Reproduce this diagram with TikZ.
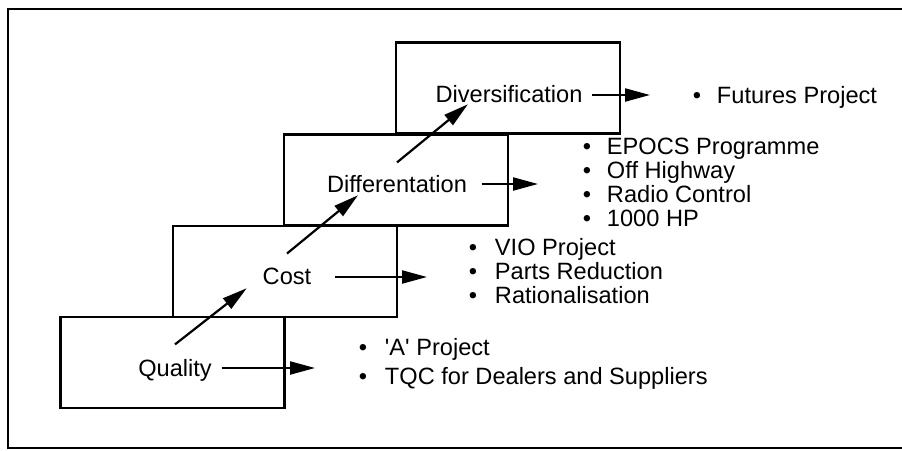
\documentclass[tikz,border=0pt]{standalone}
\usepackage{fontspec}
\setmainfont{Liberation Sans}
\usetikzlibrary{arrows.meta}
\begin{document}
\begin{tikzpicture}[x=1pt,y=-1pt,
  txt/.style={font=\fontsize{23.6}{24}\selectfont, inner sep=0pt, outer sep=0pt},
  stage/.style={draw, line width=2.2pt, minimum width=224pt, minimum height=91pt, inner sep=0pt},
  lbl/.style={txt, anchor=base},
  item/.style={txt, anchor=base west},
  flow/.style={line width=2.2pt, -{Triangle[length=25pt,width=13pt]}},
  frame/.style={line width=2pt},
]
\useasboundingbox (0,0) rectangle (902,450);
\draw[frame] (902,9) -- (8,9) -- (8,448) -- (902,448);

% stage boxes
\node[stage] (qbox) at (172.5,362.5) {};
\node[stage] (cbox) at (285,271.5) {};
\node[stage] (dbox) at (396,180) {};
\node[stage] (vbox) at (508,88) {};

% labels
\node[lbl] (qlabel) at (175,376.5) {Quality};
\node[lbl] (clabel) at (287,284.5) {Cost};
\node[lbl] (dlabel) at (397,192.5) {Differentation};
\node[lbl] (vlabel) at (509,102.5) {Diversification};

% tips of horizontal arrows
\coordinate (qtip) at (315,368);
\coordinate (ctip) at (427,277);
\coordinate (dtip) at (538,184);
\coordinate (vtip) at (650,95);

\draw[flow, shorten <=10pt] (qlabel.east |- qtip) -- (qtip);
\draw[flow, shorten <=24pt] (clabel.east |- ctip) -- (ctip);
\draw[flow, shorten <=15pt] (dlabel.east |- dtip) -- (dtip);
\draw[flow, shorten <=10pt] (vlabel.east |- vtip) -- (vtip);

% diagonal arrows
\draw[flow] ([shift={(0,-15)}]qlabel.north) -- ([shift={(-16,3.5)}]clabel.south west);
\draw[flow] ([shift={(0,-14.5)}]clabel.north) -- ([shift={(31,2.5)}]dlabel.south west);
\draw[flow] ([shift={(0,-13)}]dlabel.north) -- ([shift={(32.4,1.5)}]vlabel.south west);

% bullet lists
\newcommand{\bul}[1]{\llap{\textbullet\hspace{#1}}}
\node[item] (q1) at (385,355.5) {\bul{17.9pt}\textquotesingle A\textquotesingle{} Project};
\node[item] (q2) at (385,384.5) {\bul{17.9pt}TQC for Dealers and Suppliers};

\node[item] (c1) at (495,255.5) {\bul{17.9pt}VIO Project};
\node[item] (c2) at (495,279.5) {\bul{17.9pt}Parts Reduction};
\node[item] (c3) at (495,303.5) {\bul{17.9pt}Rationalisation};

\node[item] (d1) at (607,154.5) {\bul{15.9pt}EPOCS Programme};
\node[item] (d2) at (607,178.5) {\bul{15.9pt}Off Highway};
\node[item] (d3) at (607,202.5) {\bul{15.9pt}Radio Control};
\node[item] (d4) at (607,226.5) {\bul{15.9pt}1000 HP};

\node[item] (v1) at (717,103) {\bul{15.9pt}Futures Project};
\end{tikzpicture}
\end{document}
